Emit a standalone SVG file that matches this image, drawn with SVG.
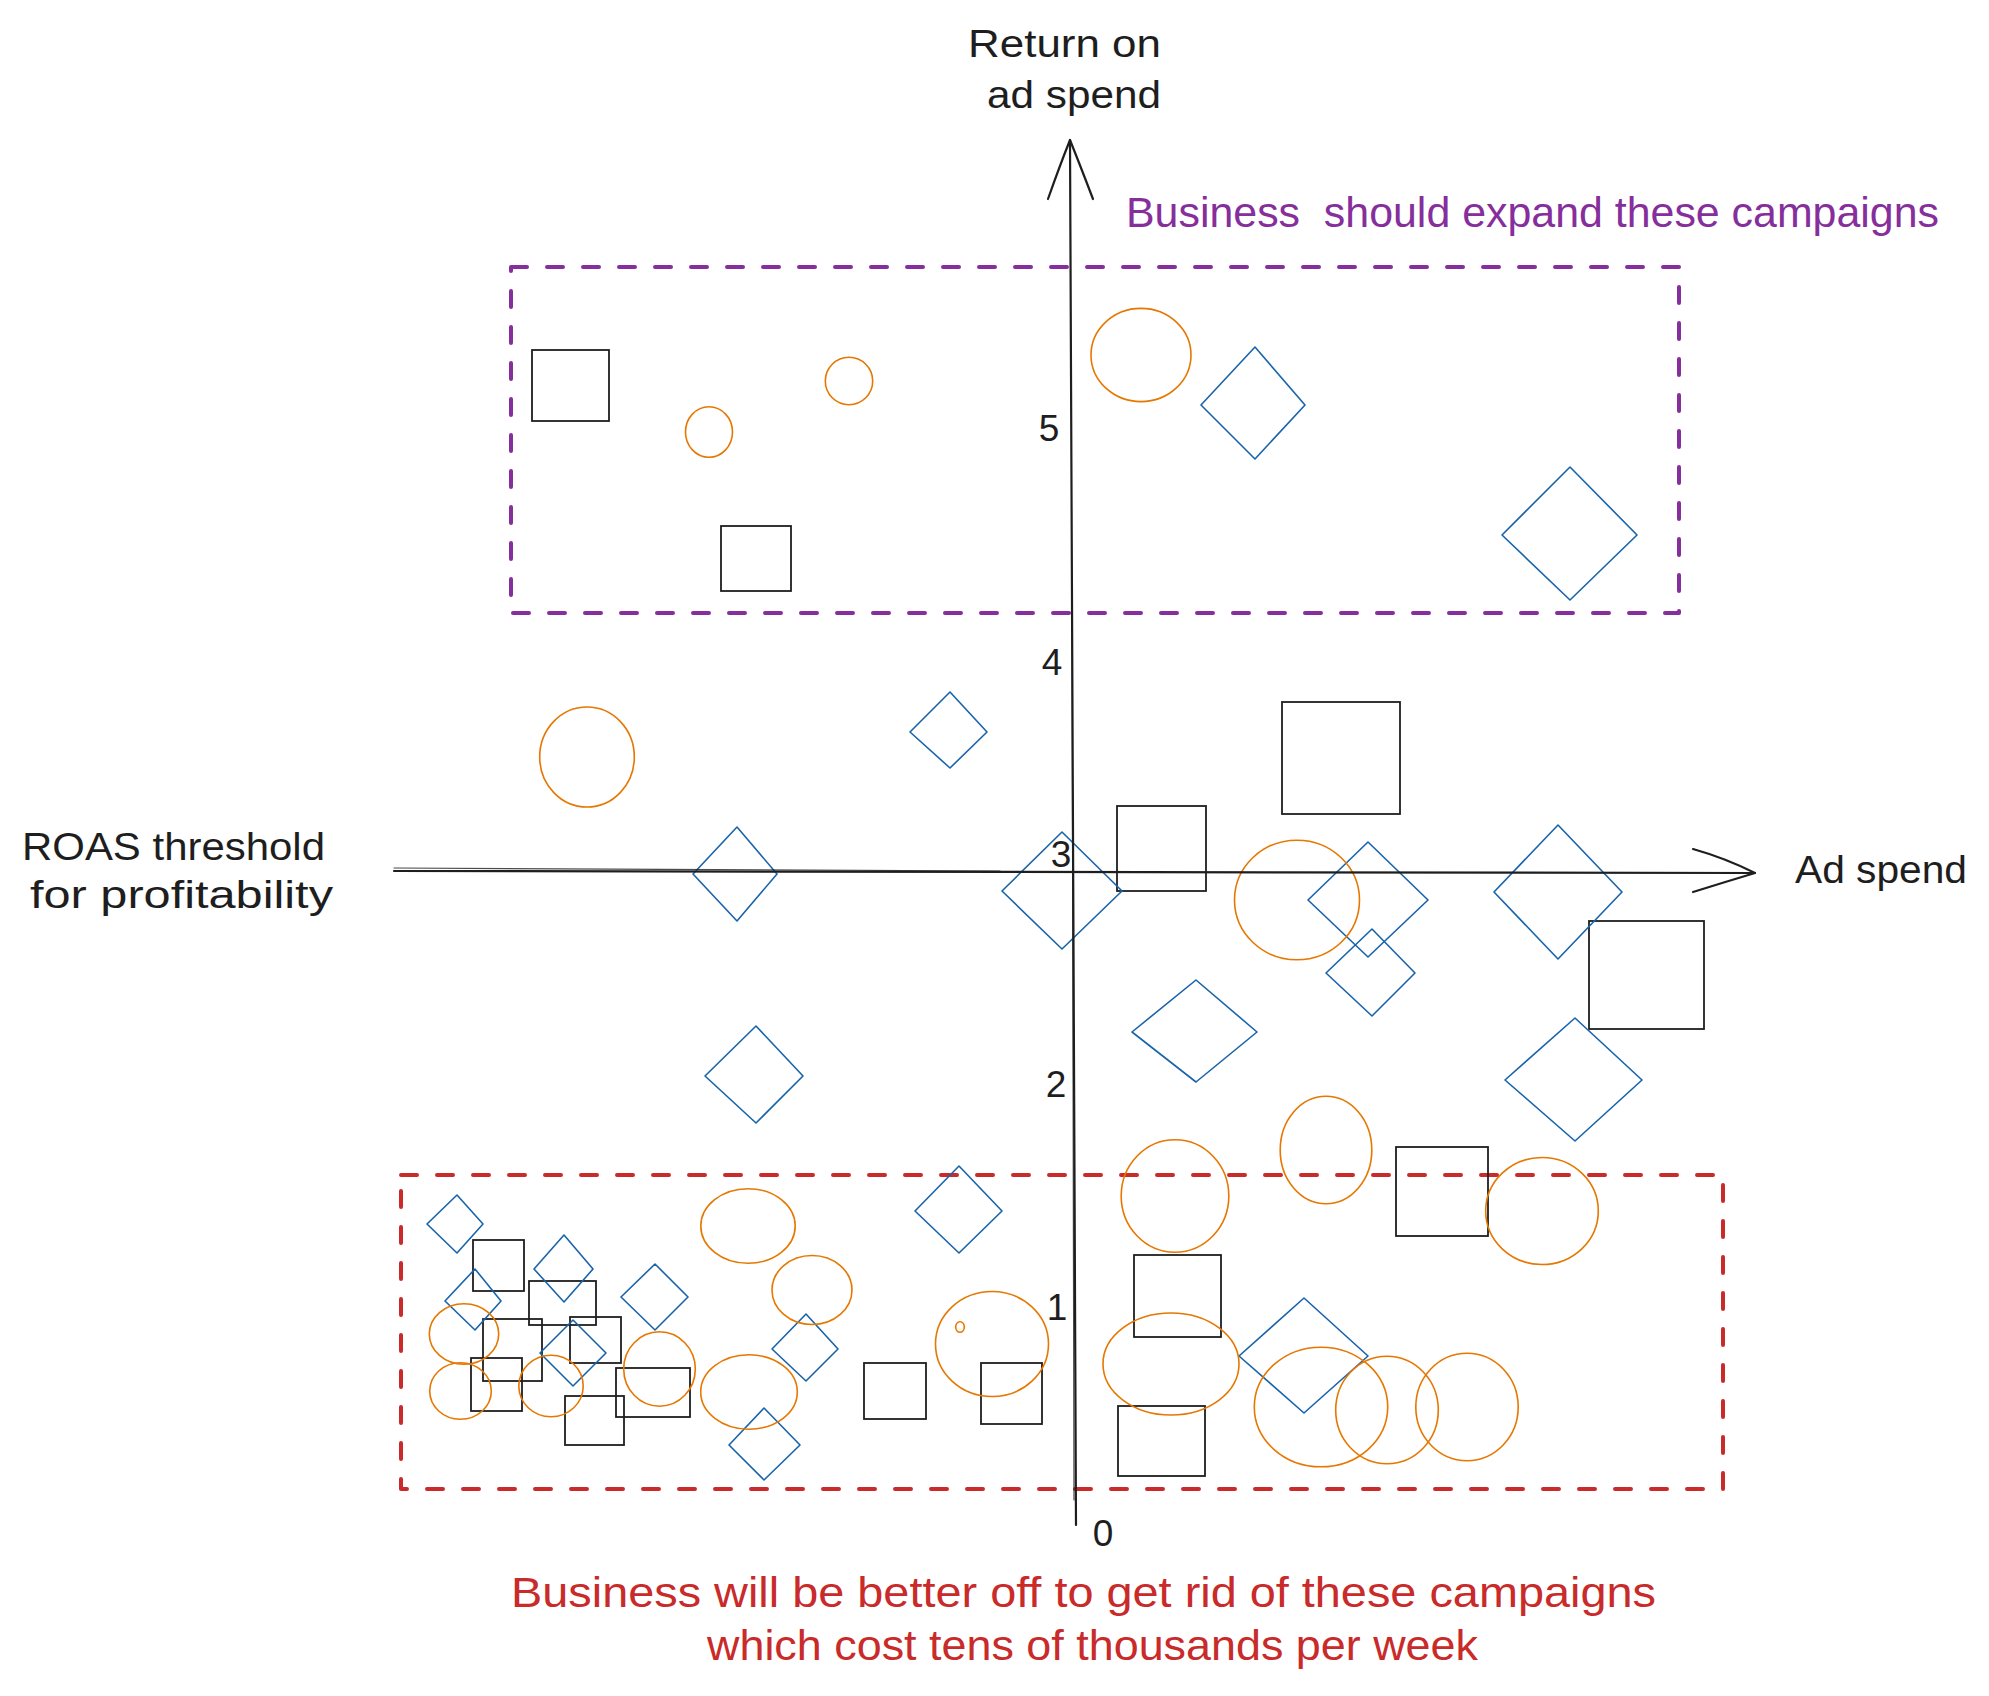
<svg xmlns="http://www.w3.org/2000/svg" width="1989" height="1696" viewBox="0 0 1989 1696">
<style>
.sq{fill:none;stroke:#1e1e1e;stroke-width:1.8}
.dm{fill:none;stroke:#1864ab;stroke-width:1.6;stroke-linejoin:round}
.ci{fill:none;stroke:#e67700;stroke-width:1.6}
.zone{fill:none;stroke-width:4;stroke-dasharray:16 20;stroke-linecap:round;stroke-linejoin:round}
.ax{fill:none;stroke:#1e1e1e;stroke-width:2.2;stroke-linecap:round;stroke-linejoin:round}
.ax2{fill:none;stroke:#1e1e1e;stroke-width:1.2;stroke-linecap:round;opacity:0.8}
.t{font-family:"Liberation Sans",Arial,sans-serif;fill:#1e1e1e}
.lbl{font-size:38px}
.num{font-size:37px;text-anchor:middle}
.note{font-size:42px}
</style>
<rect width="1989" height="1696" fill="#ffffff"/>

<g id="zone-expand">
<rect class="zone" x="511" y="267" width="1168" height="346" stroke="#862e9c"/>
</g>
<g id="zone-cut">
<rect class="zone" x="401" y="1175" width="1322" height="314" stroke="#c92a2a"/>
</g>

<g id="campaigns">
<g id="squares">
<rect class="sq" x="532" y="350" width="77" height="71"/>
<rect class="sq" x="721" y="526" width="70" height="65"/>
<rect class="sq" x="1282" y="702" width="118" height="112"/>
<rect class="sq" x="1117" y="806" width="89" height="85"/>
<rect class="sq" x="1589" y="921" width="115" height="108"/>
<rect class="sq" x="1396" y="1147" width="92" height="89"/>
<rect class="sq" x="473" y="1240" width="51" height="51"/>
<rect class="sq" x="529" y="1281" width="67" height="44"/>
<rect class="sq" x="570" y="1317" width="51" height="46"/>
<rect class="sq" x="483" y="1319" width="59" height="62"/>
<rect class="sq" x="471" y="1358" width="51" height="53"/>
<rect class="sq" x="616" y="1368" width="74" height="49"/>
<rect class="sq" x="565" y="1396" width="59" height="49"/>
<rect class="sq" x="864" y="1363" width="62" height="56"/>
<rect class="sq" x="981" y="1363" width="61" height="61"/>
<rect class="sq" x="1134" y="1255" width="87" height="82"/>
<rect class="sq" x="1118" y="1406" width="87" height="70"/>
</g>
<g id="diamonds">
<polygon class="dm" points="1255,347 1305,405 1255,459 1201,405"/>
<polygon class="dm" points="1570,467 1637,535 1570,600 1502,535"/>
<polygon class="dm" points="950,692 987,732 950,768 910,732"/>
<polygon class="dm" points="737,827 777,874 737,921 693,874"/>
<polygon class="dm" points="1062,832 1122,891 1062,949 1002,891"/>
<polygon class="dm" points="1368,842 1428,900 1368,957 1308,900"/>
<polygon class="dm" points="1558,825 1622,892 1558,959 1494,892"/>
<polygon class="dm" points="1372,929 1415,973 1372,1016 1326,973"/>
<polygon class="dm" points="1196,980 1257,1032 1196,1082 1132,1032"/>
<polygon class="dm" points="756,1026 803,1076 756,1123 705,1076"/>
<polygon class="dm" points="1575,1018 1642,1080 1575,1141 1505,1080"/>
<polygon class="dm" points="457,1195 483,1224 457,1253 427,1224"/>
<polygon class="dm" points="564,1235 593,1269 564,1302 534,1269"/>
<polygon class="dm" points="475,1269 501,1301 475,1330 445,1301"/>
<polygon class="dm" points="655,1264 688,1297 655,1330 621,1297"/>
<polygon class="dm" points="573,1320 606,1353 573,1386 540,1353"/>
<polygon class="dm" points="806,1314 838,1349 806,1381 772,1349"/>
<polygon class="dm" points="764,1408 800,1445 764,1480 729,1445"/>
<polygon class="dm" points="959,1166 1002,1211 959,1253 915,1211"/>
<polygon class="dm" points="1304,1298 1368,1356 1304,1413 1239,1356"/>
</g>
<g id="circles">
<ellipse class="ci" cx="709" cy="432" rx="23.5" ry="25.3"/>
<ellipse class="ci" cx="849" cy="381" rx="23.7" ry="23.7"/>
<ellipse class="ci" cx="1141" cy="355" rx="50" ry="46.6"/>
<ellipse class="ci" cx="587" cy="757" rx="47.3" ry="50"/>
<ellipse class="ci" cx="1297" cy="900" rx="62.5" ry="59.8"/>
<ellipse class="ci" cx="1326" cy="1150" rx="45.8" ry="53.7"/>
<ellipse class="ci" cx="1175" cy="1196" rx="53.8" ry="56.2"/>
<ellipse class="ci" cx="1542" cy="1211" rx="56.3" ry="53.5"/>
<ellipse class="ci" cx="464" cy="1334" rx="34.7" ry="30.3"/>
<ellipse class="ci" cx="460.5" cy="1391" rx="30.8" ry="28.3"/>
<ellipse class="ci" cx="551" cy="1386" rx="32.2" ry="30.8"/>
<ellipse class="ci" cx="659.5" cy="1369" rx="35.8" ry="37.2"/>
<ellipse class="ci" cx="748" cy="1226" rx="47.2" ry="37.3"/>
<ellipse class="ci" cx="812" cy="1290" rx="40" ry="34.5"/>
<ellipse class="ci" cx="749" cy="1392" rx="48.3" ry="37.2"/>
<ellipse class="ci" cx="992" cy="1344" rx="56.5" ry="52.5"/>
<ellipse class="ci" cx="960" cy="1327" rx="4.3" ry="5.3"/>
<ellipse class="ci" cx="1171" cy="1364" rx="68" ry="51"/>
<ellipse class="ci" cx="1321" cy="1407" rx="66.7" ry="59.8"/>
<ellipse class="ci" cx="1387" cy="1410" rx="51.3" ry="53.8"/>
<ellipse class="ci" cx="1467" cy="1407" rx="51.2" ry="53.7"/>
</g>
</g>

<g id="connectors">
<path class="ax" d="M1076,1525 L1070,140"/>
<path class="ax2" d="M1074,1500 L1072,600"/>
<path class="ax" d="M1048,199 Q1060,165 1070,140 Q1080,165 1093,199"/>
<path class="ax" d="M394,871 L1755,873"/>
<path class="ax2" d="M394,868 L1000,871"/>
<path class="ax" d="M1693,849 Q1725,858 1755,873 Q1725,882 1693,892"/>
</g>

<g id="labels">
<text class="t lbl" x="968" y="57" textLength="193" lengthAdjust="spacingAndGlyphs">Return on</text>
<text class="t lbl" x="987" y="108" textLength="174" lengthAdjust="spacingAndGlyphs">ad spend</text>
<text class="t lbl" x="1795" y="883" textLength="172" lengthAdjust="spacingAndGlyphs">Ad spend</text>
<text class="t lbl" x="22" y="860" textLength="303" lengthAdjust="spacingAndGlyphs">ROAS threshold</text>
<text class="t lbl" x="30" y="908" textLength="303" lengthAdjust="spacingAndGlyphs">for profitability</text>
<text class="t num" x="1049" y="441">5</text>
<text class="t num" x="1052" y="675">4</text>
<text class="t num" x="1061" y="867">3</text>
<text class="t num" x="1056" y="1097">2</text>
<text class="t num" x="1057" y="1320">1</text>
<text class="t num" x="1103" y="1546">0</text>
<text class="t note" x="1126" y="227" textLength="813" lengthAdjust="spacingAndGlyphs" style="fill:#862e9c" xml:space="preserve">Business  should expand these campaigns</text>
<text class="t note" x="511" y="1607" textLength="1145" lengthAdjust="spacingAndGlyphs" style="fill:#c92a2a">Business will be better off to get rid of these campaigns</text>
<text class="t note" x="707" y="1660" textLength="771" lengthAdjust="spacingAndGlyphs" style="fill:#c92a2a">which cost tens of thousands per week</text>
</g>
</svg>
